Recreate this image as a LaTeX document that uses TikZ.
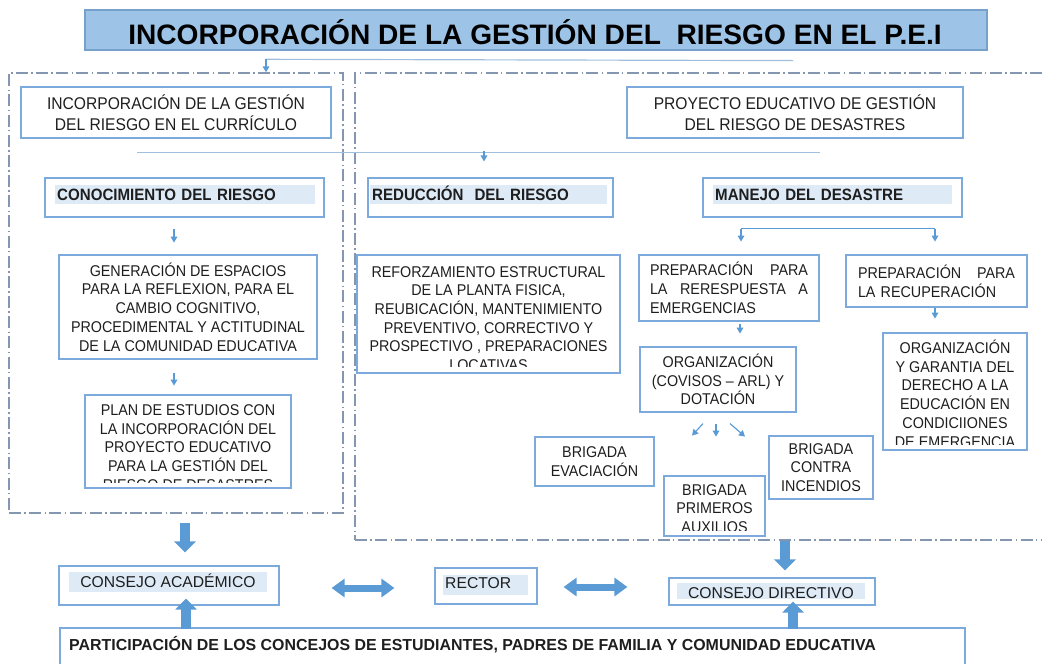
\documentclass[tikz,border=0pt]{standalone}
\usepackage{fontspec}
\setmainfont{Liberation Sans}
\newfontfamily\nar{Liberation Sans}[FakeStretch=0.92,Ligatures=TeX]
\usetikzlibrary{arrows.meta,calc}

\definecolor{titlefill}{RGB}{157,195,230}
\definecolor{titleline}{RGB}{120,160,205}
\definecolor{boxline}{RGB}{125,170,220}
\definecolor{hlfill}{RGB}{222,235,247}
\definecolor{arrowblue}{RGB}{91,155,213}
\definecolor{zoneline}{RGB}{132,150,176}
\definecolor{linkline}{RGB}{160,190,222}
\definecolor{textgray}{RGB}{30,30,30}

\newcommand{\fTitle}{\fontsize{24}{28}\selectfont\bfseries}
\newcommand{\fTop}{\nar\fontsize{14.5}{18}\selectfont}
\newcommand{\fHead}{\nar\fontsize{14}{16}\selectfont\bfseries}
\newcommand{\fBox}{\nar\fontsize{13.3}{16}\selectfont}
\newcommand{\fBot}{\fontsize{13.4}{16}\selectfont}
\newcommand{\fPart}{\fontsize{13.6}{16}\selectfont\bfseries}

\tikzset{
  sz/.style 2 args={minimum width=#1*0.03cm, minimum height=#2*0.03cm},
  boxframe/.style={draw=boxline, line width=1pt, inner sep=0pt, text=textgray},
  titlebox/.style={draw=titleline, fill=titlefill, line width=1pt, inner sep=0pt},
  zone/.style={draw=zoneline, line width=1.2pt, inner sep=0pt,
    dash pattern=on 0.36cm off 0.1cm on 0.045cm off 0.1cm},
  hl/.style 2 args={fill=hlfill, inner ysep=0pt, text=textgray,
    text height=#1*0.03cm, text depth=#2*0.03cm},
  cliptext/.style={inner sep=0pt, align=center, text=textgray, font=\fBox},
  smallarrow/.style={draw=arrowblue, line width=1pt, -{Triangle[width=0.2cm,length=0.18cm]}},
  link/.style={draw=linkline, line width=1pt},
  branch/.style={draw=arrowblue, line width=1.2pt},
  bigarrow/.style={draw=arrowblue, line width=0.32cm, -{Triangle[width=0.63cm,length=0.33cm]}},
  twoarrow/.style={draw=arrowblue, line width=0.21cm,
    {Triangle[width=0.54cm,length=0.39cm]}-{Triangle[width=0.54cm,length=0.39cm]}}
}

\begin{document}
\begin{tikzpicture}[x=0.03cm, y=-0.03cm]
  \clip (0,0) rectangle (1042,663);

  % dash-dot zones
  \node[zone, sz={334}{440}] (leftzone) at (176,293) {};
  \node[zone, sz={705}{467}] (rightzone) at (707.5,306.5) {};

  % title
  \node[titlebox, sz={902}{40}] (title) at (536,30) {};
  \node[anchor=base, inner sep=0pt, font=\fTitle] (titletext) at (535,44)
    {INCORPORACIÓN DE LA GESTIÓN DEL\ \ RIESGO EN EL P.E.I};

  % top boxes
  \node[boxframe, sz={310}{51}, align=center, font=\fTop] (curr) at (176,112.5)
    {INCORPORACIÓN DE LA GESTIÓN\\DEL RIESGO EN EL CURRÍCULO};
  \node[boxframe, sz={336}{51}, align=center, font=\fTop] (proy) at (795,112.5)
    {PROYECTO EDUCATIVO DE GESTIÓN\\DEL RIESGO DE DESASTRES};

  % headings
  \node[boxframe, sz={279}{39}] (conoc) at (184.5,197.5) {};
  \node[hl={15}{4}, anchor=base west, inner xsep=0.06cm, text width=7.68cm, align=left, font=\fHead]
    (conoctext) at (55,200) {CONOCIMIENTO DEL RIESGO};
  \node[boxframe, sz={245}{39}] (reduc) at (490.5,197.5) {};
  \node[hl={15}{4}, anchor=base west, inner xsep=0.06cm, text width=6.99cm, align=left, font=\fHead]
    (reductext) at (370,200) {REDUCCIÓN\ \ DEL RIESGO};
  \node[boxframe, sz={259}{39}] (manejo) at (832.5,197.5) {};
  \node[hl={15}{4}, anchor=base west, inner xsep=0.06cm, text width=7.05cm, align=left, font=\fHead]
    (manejotext) at (713,200) {MANEJO DEL DESASTRE};

  % left column
  \node[boxframe, sz={258}{104}, align=center, font=\fBox] (gener) at (188,307)
    {GENERACIÓN DE ESPACIOS\\PARA LA REFLEXION, PARA EL\\CAMBIO COGNITIVO,\\PROCEDIMENTAL Y ACTITUDINAL\\DE LA COMUNIDAD EDUCATIVA};
  \node[boxframe, sz={206}{93}] (plan) at (188,441.5) {};
  \begin{scope}
    \clip ($(plan.south west)+(1,-6)$) rectangle ($(plan.north east)+(-1,1)$);
    \node[cliptext] (plantext) at (188,447.5)
      {PLAN DE ESTUDIOS CON\\LA INCORPORACIÓN DEL\\PROYECTO EDUCATIVO\\PARA LA GESTIÓN DEL\\RIESGO DE DESASTRES};
  \end{scope}

  % reduccion
  \node[boxframe, sz={263}{118}] (reforz) at (488.5,314) {};
  \begin{scope}
    \clip ($(reforz.south west)+(1,-7)$) rectangle ($(reforz.north east)+(-1,1)$);
    \node[cliptext] (reforztext) at (488.5,318.5)
      {REFORZAMIENTO ESTRUCTURAL\\DE LA PLANTA FISICA,\\REUBICACIÓN, MANTENIMIENTO\\PREVENTIVO, CORRECTIVO Y\\PROSPECTIVO , PREPARACIONES\\LOCATIVAS};
  \end{scope}

  % manejo
  \node[boxframe, sz={180}{66}, text width=4.74cm, align=left, font=\fBox] (prepresp) at (729,288)
    {\makebox[4.74cm][l]{PREPARACIÓN\hfill PARA}\\\makebox[4.74cm][l]{LA\hfill RERESPUESTA\hfill A}\\EMERGENCIAS};
  \node[boxframe, sz={181}{52}, text width=4.71cm, align=left, font=\fBox] (preprec) at (936.5,281)
    {\makebox[4.71cm][l]{PREPARACIÓN\hfill PARA}\\LA RECUPERACIÓN};
  \node[boxframe, sz={156}{65}, align=center, font=\fBox] (organiz) at (718,379.5)
    {ORGANIZACIÓN\\(COVISOS – ARL) Y\\DOTACIÓN};
  \node[boxframe, sz={144}{117}] (garantia) at (955,391.5) {};
  \begin{scope}
    \clip ($(garantia.south west)+(1,-6)$) rectangle ($(garantia.north east)+(-1,1)$);
    \node[cliptext] (garantiatext) at (955,393.5)
      {ORGANIZACIÓN\\Y GARANTIA DEL\\DERECHO A LA\\EDUCACIÓN EN\\CONDICIIONES\\DE EMERGENCIA};
  \end{scope}

  % brigadas
  \node[boxframe, sz={119}{49}, align=center, font=\fBox] (evac) at (594.5,461.5) {BRIGADA\\EVACIACIÓN};
  \node[boxframe, sz={104}{63}, align=center, font=\fBox] (contra) at (821,467.5) {BRIGADA\\CONTRA\\INCENDIOS};
  \node[boxframe, sz={101}{60}] (primeros) at (714.5,506) {};
  \begin{scope}
    \clip ($(primeros.south west)+(1,-6)$) rectangle ($(primeros.north east)+(-1,1)$);
    \node[cliptext] (primerostext) at (714.5,508.5) {BRIGADA\\PRIMEROS\\AUXILIOS};
  \end{scope}

  % councils
  \node[boxframe, sz={220}{39}] (acad) at (169,585.5) {};
  \node[hl={15}{5}, anchor=base, inner xsep=0pt, minimum width=5.94cm, font=\fBot]
    (acadtext) at (168,587) {CONSEJO ACADÉMICO};
  \node[boxframe, sz={102}{36}] (rector) at (486,586) {};
  \node[hl={13}{7}, anchor=base west, inner xsep=0.06cm, text width=2.43cm, align=left, font=\fBot]
    (rectortext) at (443,588) {RECTOR};
  \node[boxframe, sz={206}{27}] (directivo) at (772,591.5) {};
  \node[hl={15}{1}, anchor=base, inner xsep=0pt, minimum width=5.64cm, font=\fBot]
    (directivotext) at (771,598) {CONSEJO DIRECTIVO};
  \node[boxframe, sz={905}{52}] (particip) at (512.5,654) {};
  \node[anchor=base west, inner sep=0pt, text=textgray, font=\fPart] (participtext) at (69,650)
    {PARTICIPACIÓN DE LOS CONCEJOS DE ESTUDIANTES, PADRES DE FAMILIA Y COMUNIDAD EDUCATIVA};

  % small connectors
  \draw[link] ($(title.south)+(257,10)$) -- ($(leftzone.north)+(90,-13)$);
  \draw[smallarrow] ($(leftzone.north)+(90,-13)$) -- ($(leftzone.north)+(90,0)$);
  \draw[link] ($(curr.south)+(-39,14)$) -- ($(proy.south)+(25,14)$);
  \draw[smallarrow] ($(reduc.north)+(-6.5,-26)$) -- ($(reduc.north)+(-6.5,-16)$);
  \draw[smallarrow] ($(conoc.south)+(-10.5,11)$) -- ($(conoc.south)+(-10.5,25)$);
  \draw[smallarrow] ($(gener.south)+(-14,13)$) -- ($(gener.south)+(-14,26)$);
  \draw[branch] ($(manejo.south)+(-91.5,11)$) -- ($(manejo.south)+(102.5,11)$);
  \draw[smallarrow] ($(manejo.south)+(-91.5,11)$) -- ($(manejo.south)+(-91.5,24)$);
  \draw[smallarrow] ($(manejo.south)+(102.5,11)$) -- ($(manejo.south)+(102.5,24)$);
  \draw[smallarrow] ($(prepresp.south)+(11,2)$) -- ($(prepresp.south)+(11,12)$);
  \draw[smallarrow] ($(preprec.south)+(-1.5,0)$) -- ($(preprec.south)+(-1.5,11)$);
  \draw[smallarrow] ($(organiz.south)+(-15,11)$) -- ($(organiz.south)+(-26,23)$);
  \draw[smallarrow] ($(organiz.south)+(-2,11)$) -- ($(organiz.south)+(-2,24)$);
  \draw[smallarrow] ($(organiz.south)+(12,11)$) -- ($(organiz.south)+(27,24)$);

  % block arrows
  \draw[bigarrow] ($(leftzone.south)+(9,9)$) -- ($(acad.north)+(16,-13)$);
  \draw[bigarrow] ($(rightzone.south)+(77.5,0)$) -- ($(directivo.north)+(13,-7)$);
  \draw[bigarrow] ($(particip.north)+(-326.5,2)$) -- ($(acad.south)+(17,-7)$);
  \draw[bigarrow] ($(particip.north)+(280.5,2)$) -- ($(directivo.south)+(21,-4)$);
  \draw[twoarrow] ($(acad.east)+(52,2.5)$) -- ($(rector.west)+(-40,2)$);
  \draw[twoarrow] ($(rector.east)+(26,1)$) -- ($(directivo.west)+(-41,-4.5)$);
\end{tikzpicture}
\end{document}
